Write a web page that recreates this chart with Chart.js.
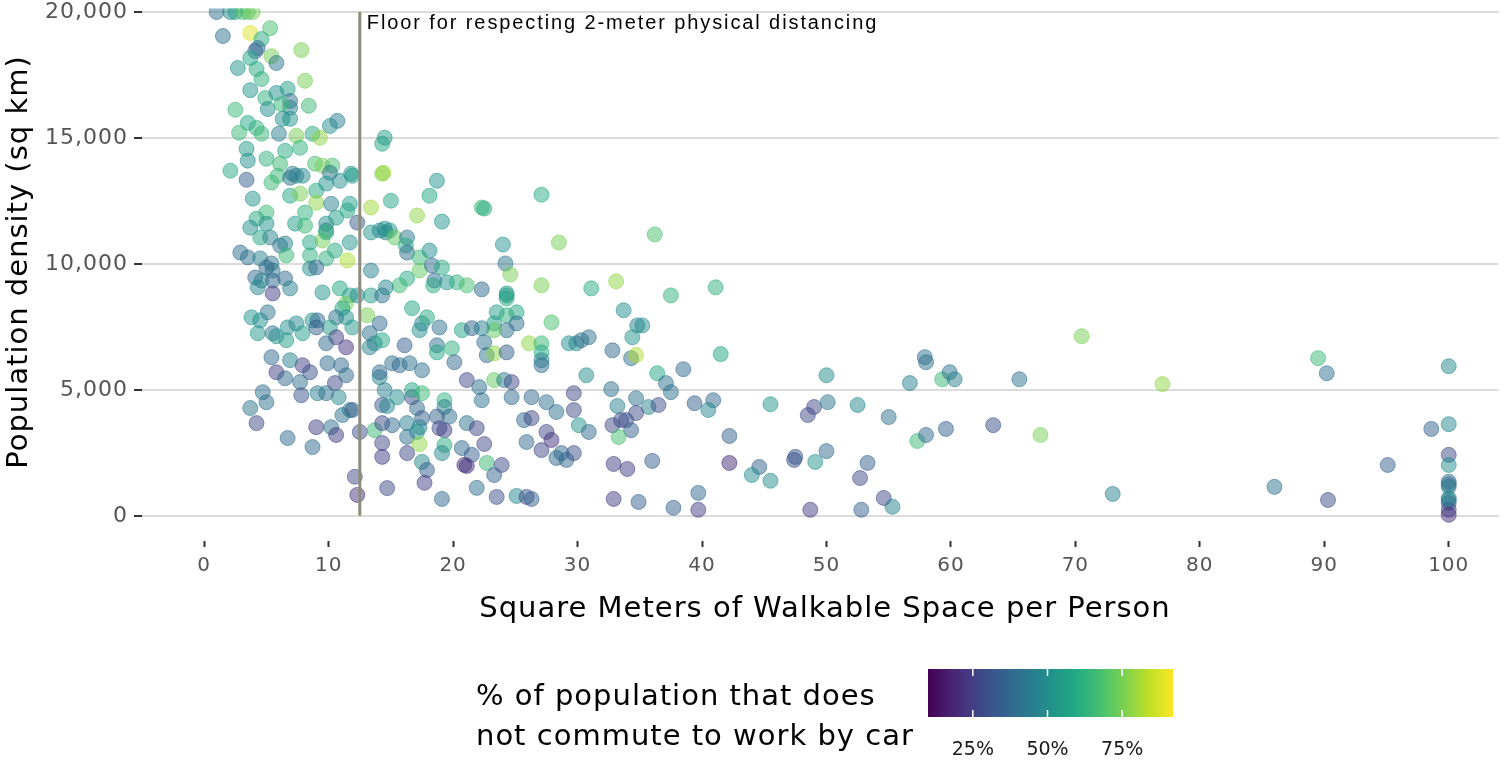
<!DOCTYPE html>
<html>
<head>
<meta charset="utf-8">
<script src="https://cdn.jsdelivr.net/npm/chart.js@4/dist/chart.umd.min.js"></script>
<style>
  html, body { margin: 0; padding: 0; background: #ffffff; }
  canvas { display: block; }
</style>
</head>
<body>
<canvas id="chart" width="1507" height="761"></canvas>
<script>
// Each city: [walkable m² per person, population density per km², % not commuting by car]
const denseCoreTop = [
  [1.0,20000,40],[2.1,20000,50],[2.5,20000,55],[3.1,20000,70],[3.5,20000,68],[3.9,20000,75],
  [1.5,19050,40],[3.7,19170,88],[5.3,19360,68],[4.6,18930,60],[4.3,18570,40],[4.1,18450,35],
  [5.4,18250,75],[5.8,17980,42],[7.8,18490,75],[3.7,18180,58],[2.7,17780,52],[4.2,17740,60],
  [4.6,17340,62],[8.1,17270,75],[3.7,16900,52],[4.9,16590,62],[5.8,16790,50],[6.7,16950,55],
  [6.9,16470,40],[6.9,16200,45],[5.1,16150,50],[6.2,16350,65],[8.4,16280,65],[2.5,16120,65],
  [6.3,15760,50],[6.9,15760,52],[3.5,15600,58],[4.2,15400,62],[4.6,15170,65],[2.8,15210,65],
  [6.0,15170,45],[7.4,15090,75],[8.7,15170,60],[10.1,15480,50],[10.7,15680,45],[9.3,15010,78],
  [7.7,14610,62],[3.4,14570,55],[3.5,14100,50],[5.0,14180,62],[6.5,14490,60],[6.1,13980,65],
  [2.1,13700,60],[3.4,13340,35],[7.1,13580,45],[7.9,13500,48],[8.9,13980,68],[9.5,13900,75],
  [10.3,13900,68],[11.8,13580,52],[10.1,13620,42],[14.3,13580,75],[14.3,14770,58],[14.5,15010,55]
];
const denseCoreMiddle = [
  [3.9,12590,52],[5.4,13230,65],[5.9,13500,65],[6.9,13420,42],[7.4,13500,45],[9.0,12910,60],
  [9.8,13190,52],[10.9,13300,50],[11.9,13500,55],[6.9,12710,58],[7.7,12790,75],[9.0,12430,78],
  [10.2,12390,45],[11.7,12390,55],[13.4,12240,80],[5.0,12040,65],[4.2,11800,60],[3.7,11440,50],
  [5.0,11600,52],[7.3,11600,55],[8.1,12040,62],[8.1,11520,65],[9.8,11600,50],[9.8,11330,45],
  [10.6,11840,55],[11.5,12120,58],[12.3,11640,33],[13.4,11250,52],[14.1,11330,48],[14.6,11250,45],
  [4.5,11050,58],[5.3,11050,45],[6.1,10730,40],[6.5,10810,45],[6.6,10340,65],[2.9,10450,40],
  [3.5,10260,40],[4.5,10220,45],[5.4,10020,40],[5.5,9740,42],[5.0,9860,38],[8.5,10850,58],
  [8.5,10340,62],[9.8,10220,62],[10.5,10530,60],[11.7,10850,52],[9.5,10930,75],[11.5,10140,82],
  [8.5,9820,50],[9.0,9860,38],[9.8,11250,62],[4.1,9460,38],[4.6,9340,45],[6.5,9420,38],
  [5.5,9340,38],[4.3,9070,48],[5.5,8830,25],[6.9,9030,45],[9.5,8870,52],[10.9,9030,58],
  [11.7,8750,55],[11.4,8430,75],[13.1,7960,75],[12.3,8750,50],[13.4,9740,45],[13.4,8750,55],
  [14.3,8750,40],[11.1,8240,58],[10.6,7880,40],[11.4,7880,50],[11.9,7480,52],[3.8,7880,52],
  [5.1,8080,42],[4.5,7760,50],[4.3,7250,52],[5.5,7250,40],[6.7,7480,50],[7.4,7640,48],
  [7.9,7250,55],[8.7,7760,52],[9.1,7760,38],[10.1,7480,55],[9.0,7480,35],[10.6,7090,25],
  [11.4,6690,22],[9.8,6850,38],[13.3,7250,40],[14.1,7640,38],[13.7,6850,48],[14.3,6970,58],
  [5.8,7130,52],[6.6,6970,55]
];
const denseCoreLower = [
  [7.9,5980,25],[5.8,5700,25],[6.5,5460,38],[5.4,6300,38],[6.9,6180,45],[8.5,5700,30],
  [9.9,6060,38],[11.0,5980,38],[11.4,5580,38],[7.7,5310,40],[10.5,5270,28],[4.7,4910,40],
  [5.0,4510,40],[3.7,4280,42],[4.2,3680,28],[7.8,4790,32],[9.1,4870,45],[9.8,4870,40],
  [10.8,4710,48],[11.1,4000,40],[11.7,4200,45],[11.9,4200,33],[6.7,3090,38],[8.7,2730,38],
  [9.0,3520,25],[10.2,3520,40],[10.6,3210,25],[12.5,3330,30],[13.7,3400,65],[14.3,3680,28],
  [14.3,2890,28],[14.3,2340,25],[12.1,1550,28],[12.3,830,22],[14.7,1100,28],[13.3,6690,45],
  [14.1,5500,45],[14.5,4990,45],[14.3,4400,32]
];
const innerRingUpper = [
  [14.4,13620,80],[18.7,13300,52],[18.1,12710,58],[15.0,12510,58],[17.1,11920,78],[19.1,11680,52],
  [22.3,12240,65],[22.5,12200,60],[27.1,12750,60],[28.5,10850,75],[24.0,10770,52],[24.2,10020,42],
  [24.6,9580,75],[27.1,9150,75],[31.1,9030,60],[22.3,8990,38],[24.3,8830,52],[14.5,11400,50],
  [14.9,11330,52],[15.3,11050,72],[16.3,11050,42],[16.2,10730,60],[16.3,10450,40],[17.3,10260,65],
  [17.3,9740,72],[18.1,10530,50],[18.3,9940,38],[18.5,9340,38],[18.4,9150,60],[19.1,9860,60],
  [19.5,9270,52],[20.3,9270,62],[21.1,9150,68],[16.3,9420,60],[15.7,9150,65],[14.6,9070,48]
];
const innerRingLower = [
  [24.3,8630,60],[27.9,7680,68],[26.1,6850,78],[27.1,6850,65],[27.1,6490,60],[27.1,6180,45],
  [27.1,5980,40],[29.3,6850,50],[29.9,6850,48],[30.3,6970,40],[30.9,7090,40],[30.7,5580,50],
  [23.5,8080,55],[24.3,7960,62],[25.1,8080,58],[23.3,7640,55],[24.3,7370,40],[25.1,7640,40],
  [23.3,7370,72],[20.7,7370,58],[21.5,7450,35],[22.3,7450,45],[22.5,6890,40],[22.7,6380,40],
  [23.3,6450,78],[24.3,6490,35],[24.3,8750,55],[18.7,6770,40],[18.7,6490,58],[19.9,6650,62],
  [20.1,6100,38],[17.5,5780,40],[17.5,7640,45],[17.3,7370,50],[18.9,7480,40],[17.9,7880,60],
  [16.7,8240,58],[16.1,6770,35],[15.1,6060,40],[15.7,5980,38],[16.5,6060,40],[14.1,5700,38],
  [21.1,5390,28],[22.1,5110,40],[22.3,4590,40],[23.3,5390,72],[24.1,5390,45],[24.7,5310,28],
  [24.7,4710,38],[26.3,4710,38],[27.5,4510,40],[28.3,4120,40],[29.7,4870,28],[29.7,4200,28],
  [30.1,3600,52],[30.9,3330,38],[25.7,3800,38],[26.3,3880,28],[27.5,3330,28],[27.9,3010,22],
  [25.9,2930,38],[27.1,2610,28],[28.3,2300,38],[28.7,2490,38],[29.1,2220,38],[29.7,2490,30],
  [16.7,4710,28],[17.1,4280,38],[14.7,4360,48],[15.5,4710,50],[16.7,4990,58],[17.5,4870,65],
  [19.3,4590,62],[19.3,4320,45],[19.7,3940,40],[18.7,3940,35],[17.5,3880,35],[16.3,3680,45],
  [15.1,3600,38],[17.3,3520,45],[17.1,3330,52],[18.9,3480,28],[19.3,3400,25],[16.3,3130,40],
  [21.1,3680,40],[21.9,3480,28],[17.3,2850,78],[19.3,2810,60],[19.1,2490,48],[20.7,2690,38],
  [21.5,2420,35],[22.5,2850,28],[16.3,2490,28],[17.5,2140,48],[17.9,1820,35],[20.9,2020,20],
  [21.1,1980,22],[22.7,2100,65],[23.9,2020,28],[23.3,1620,35],[17.7,1310,25],[21.9,1110,40],
  [19.1,670,38],[23.5,750,30],[25.1,790,48],[25.9,750,30],[26.3,670,35]
];
const outerRing = [
  [36.2,11170,68],[33.1,9310,78],[37.5,8750,62],[41.1,9070,62],[33.7,8160,50],[34.8,7560,45],
  [35.2,7560,50],[34.4,7090,52],[32.8,6570,38],[34.3,6260,40],[34.7,6380,82],[41.5,6420,58],
  [36.4,5660,58],[38.5,5820,38],[37.1,5270,40],[37.5,4910,40],[32.7,5030,40],[34.7,4670,40],
  [33.2,4360,45],[35.7,4320,45],[36.5,4400,30],[39.4,4470,35],[40.9,4590,38],[40.5,4200,48],
  [33.5,3800,28],[34.7,4080,28],[32.8,3600,28],[33.9,3800,30],[34.3,3400,35],[33.3,3130,68],
  [42.2,3170,35],[45.5,4430,52],[49.0,4320,28],[48.5,4000,28],[50.1,4510,42],[50.0,5580,50],
  [52.5,4400,48],[55.0,3920,40],[32.9,2060,25],[34.0,1860,25],[36.0,2180,35],[42.2,2100,20],
  [47.5,2340,32],[47.4,2220,32],[50.0,2570,38],[49.1,2140,52],[53.3,2100,35],[44.6,1940,35],
  [44.0,1620,50],[45.5,1390,50],[52.7,1500,28],[54.6,710,28],[39.7,910,38],[32.9,670,25],
  [34.9,550,35],[37.7,320,35],[39.7,240,25],[48.7,240,25],[52.8,240,35]
];
const sparseEdge = [
  [57.9,6300,40],[58.0,6100,40],[56.7,5270,45],[59.3,5420,65],[59.9,5700,40],[60.3,5420,45],
  [65.5,5420,40],[70.5,7130,75],[77.0,5230,78],[89.5,6260,65],[90.2,5660,40],[100,5940,48],
  [57.3,2970,65],[58.0,3210,38],[59.6,3450,35],[63.4,3600,30],[67.2,3210,75],[98.6,3450,35],
  [100,3640,48],[100,2420,28],[100,2020,50],[95.1,2020,35],[100,1350,38],[100,1150,45],
  [100,630,50],[100,510,35],[100,240,28],[100,40,20],[86.0,1150,40],[90.3,630,30],
  [73.0,870,45],[55.3,360,45],[100,1250,40],[100,700,45]
];

const cities = [].concat(denseCoreTop, denseCoreMiddle, denseCoreLower,
  innerRingUpper, innerRingLower, outerRing, sparseEdge);

const xTickValues = [0, 10, 20, 30, 40, 50, 60, 70, 80, 90, 100];
const yTickValues = [0, 5000, 10000, 15000, 20000];
const shareTicks = [25, 50, 75];
const shareDomain = [10, 92];
const distancingFloor = 12.5;

// viridis palette sampled at 0, 0.1, ... 1
const viridisStops = ['#440154','#482475','#414487','#355f8d','#2a788e','#21918c',
                      '#22a884','#44bf70','#7ad151','#bddf26','#fde725'];

function hexToRgb(h) {
  return [parseInt(h.slice(1,3),16), parseInt(h.slice(3,5),16), parseInt(h.slice(5,7),16)];
}
function viridis(t) {
  t = Math.max(0, Math.min(1, t));
  const pos = t * (viridisStops.length - 1);
  const i = Math.min(Math.floor(pos), viridisStops.length - 2);
  const f = pos - i;
  const a = hexToRgb(viridisStops[i]), b = hexToRgb(viridisStops[i + 1]);
  return a.map((v, k) => Math.round(v + (b[k] - v) * f));
}
function shareColor(share, alpha) {
  const t = (share - shareDomain[0]) / (shareDomain[1] - shareDomain[0]);
  const c = viridis(t);
  return `rgba(${c[0]},${c[1]},${c[2]},${alpha})`;
}

const FONT = '"DejaVu Sans", "Noto Sans", sans-serif';

const overlayPlugin = {
  id: 'overlay',
  beforeDraw(chart) {
    // slightly wider tracking for the axis tick labels
    chart.ctx.letterSpacing = '1px';
  },
  afterDatasetsDraw(chart) {
    const { ctx, scales } = chart;
    const x = scales.x, y = scales.y;
    const lx = x.getPixelForValue(distancingFloor);
    ctx.save();
    ctx.strokeStyle = '#8c8c7e';
    ctx.lineWidth = 3;
    ctx.beginPath();
    ctx.moveTo(lx, y.getPixelForValue(20000));
    ctx.lineTo(lx, y.getPixelForValue(0));
    ctx.stroke();
    ctx.fillStyle = '#000000';
    ctx.font = '20px "Liberation Sans", Arial, sans-serif';
    ctx.letterSpacing = '1.9px';
    ctx.textAlign = 'left';
    ctx.textBaseline = 'alphabetic';
    ctx.fillText('Floor for respecting 2-meter physical distancing', lx + 7, 29);
    ctx.restore();
  },
  afterDraw(chart) {
    const { ctx } = chart;
    ctx.save();
    ctx.fillStyle = '#000000';
    ctx.letterSpacing = '1px';
    // axis titles
    ctx.font = '29px ' + FONT;
    ctx.textAlign = 'center';
    ctx.textBaseline = 'alphabetic';
    ctx.fillText('Square Meters of Walkable Space per Person', 825, 617);
    ctx.save();
    ctx.translate(27, 262);
    ctx.rotate(-Math.PI / 2);
    ctx.fillText('Population density (sq km)', 0, 0);
    ctx.restore();

    // colour legend
    ctx.textAlign = 'left';
    ctx.fillText('% of population that does', 476, 705);
    ctx.fillText('not commute to work by car', 476, 745);

    const bx = 928, by = 669, bw = 245, bh = 48;
    const grad = ctx.createLinearGradient(bx, 0, bx + bw, 0);
    for (let i = 0; i <= 20; i++) {
      const c = viridis(i / 20);
      grad.addColorStop(i / 20, `rgb(${c[0]},${c[1]},${c[2]})`);
    }
    ctx.fillStyle = grad;
    ctx.fillRect(bx, by, bw, bh);
    ctx.strokeStyle = '#ffffff';
    ctx.lineWidth = 1.5;
    ctx.letterSpacing = '0px';
    ctx.font = '19px ' + FONT;
    ctx.textAlign = 'center';
    ctx.fillStyle = '#1a1a1a';
    shareTicks.forEach(v => {
      const px = bx + (v - shareDomain[0]) / (shareDomain[1] - shareDomain[0]) * bw;
      ctx.beginPath();
      ctx.moveTo(px, by); ctx.lineTo(px, by + 7);
      ctx.moveTo(px, by + bh - 7); ctx.lineTo(px, by + bh);
      ctx.stroke();
      ctx.fillText(v + '%', px, 755);
    });
    ctx.restore();
    ctx.letterSpacing = '0px';
  }
};

new Chart(document.getElementById('chart'), {
  type: 'scatter',
  data: {
    datasets: [{
      data: cities.map(c => ({ x: c[0], y: c[1], share: c[2] })),
      pointRadius: 7.5,
      pointHoverRadius: 7.5,
      borderWidth: 1,
      backgroundColor: ctx => shareColor(ctx.raw ? ctx.raw.share : 50, 0.5),
      borderColor: ctx => shareColor(ctx.raw ? ctx.raw.share : 50, 0.55)
    }]
  },
  options: {
    responsive: false,
    animation: false,
    devicePixelRatio: 1,
    layout: { padding: 0 },
    plugins: { legend: { display: false }, tooltip: { enabled: false } },
    scales: {
      x: {
        type: 'linear',
        min: -5,
        max: 104.0,
        border: { display: false },
        grid: { drawOnChartArea: false, drawTicks: true, tickLength: 6, tickColor: '#333333', tickWidth: 2 },
        ticks: { font: { family: FONT, size: 20 }, color: '#555555', padding: 7, maxRotation: 0 },
        afterBuildTicks: s => { s.ticks = xTickValues.map(v => ({ value: v })); },
        afterFit: s => { s.height = 220; s.paddingLeft = 0; s.paddingRight = 0; }
      },
      y: {
        type: 'linear',
        min: -1000,
        max: 20141,
        border: { display: false },
        grid: { color: '#dcdcdc', lineWidth: 2, drawTicks: true, tickLength: 8, tickColor: '#333333', tickWidth: 2 },
        ticks: {
          font: { family: FONT, size: 22 }, color: '#555555', padding: 6,
          callback: v => v.toLocaleString('en-US')
        },
        afterBuildTicks: s => { s.ticks = yTickValues.map(v => ({ value: v })); },
        afterFit: s => { s.width = 142; s.paddingTop = 0; s.paddingBottom = 0; }
      }
    }
  },
  plugins: [overlayPlugin]
});
</script>
</body>
</html>
